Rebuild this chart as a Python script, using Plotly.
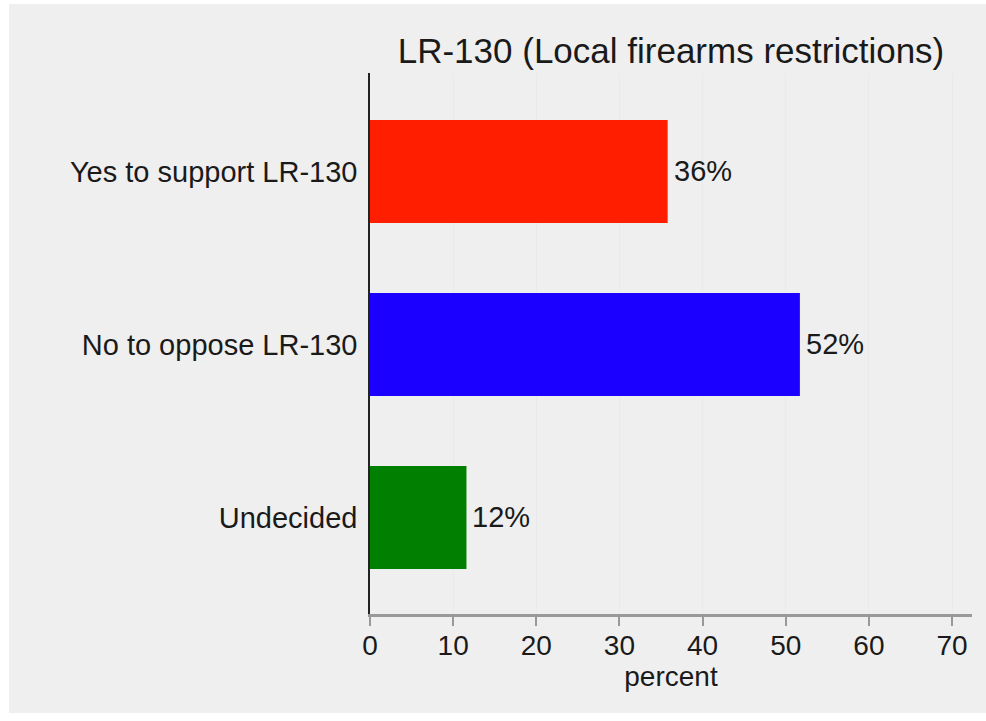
import plotly.graph_objects as go

categories = ["Yes to support LR-130", "No to oppose LR-130", "Undecided"]
values = [35.8, 51.7, 11.6]
value_labels = ["36%", "52%", "12%"]
bar_colors = ["#FF1E00", "#1B00FF", "#007F00"]
x_ticks = [0, 10, 20, 30, 40, 50, 60, 70]
title_text = "LR-130 (Local firearms restrictions)"
x_title = "percent"

FONT = "Liberation Sans, Arial, Helvetica, sans-serif"
BG = "#EFEFEF"
TXT = "#1a1a1a"

fig = go.Figure(
    go.Bar(
        x=values,
        y=categories,
        orientation="h",
        marker=dict(color=bar_colors, line=dict(width=0)),
        width=0.595,
        hoverinfo="skip",
    )
)

annotations = [
    dict(
        x=v, y=c, xref="x", yref="y", text=t, showarrow=False,
        xanchor="left", yanchor="middle", xshift=4,
        font=dict(size=29, color=TXT, family=FONT),
    )
    for v, c, t in zip(values, categories, value_labels)
]

fig.update_layout(
    width=986,
    height=721,
    margin=dict(l=370, r=14, t=73, b=107),
    paper_bgcolor="white",
    plot_bgcolor="rgba(0,0,0,0)",
    showlegend=False,
    font=dict(family=FONT, size=29, color=TXT),
    annotations=annotations,
    title=dict(
        text=title_text,
        x=0.5,
        xref="paper",
        xanchor="center",
        y=1 - 51 / 721,
        yref="container",
        yanchor="middle",
        font=dict(size=35, color=TXT, family=FONT),
    ),
    shapes=[
        dict(
            type="rect",
            xref="paper",
            yref="paper",
            x0=(9 - 370) / 602,
            x1=(990 - 370) / 602,
            y0=-(713 - 614) / 541,
            y1=1 + (73 - 4) / 541,
            fillcolor=BG,
            line=dict(width=0),
            layer="below",
        )
    ],
)

fig.update_xaxes(
    range=[0, 72.4],
    tickvals=x_ticks,
    ticktext=[str(t) for t in x_ticks],
    showgrid=True,
    gridcolor="#E8EBED",
    gridwidth=1,
    zeroline=False,
    showline=True,
    linecolor="#999999",
    linewidth=3,
    ticks="outside",
    tickcolor="#999999",
    tickwidth=2,
    ticklen=9,
    ticklabelstandoff=-5,
    tickfont=dict(size=28, family=FONT, color=TXT),
    title=dict(text=x_title, font=dict(size=28, family=FONT, color=TXT), standoff=2),
    fixedrange=True,
)

fig.update_yaxes(
    categoryorder="array",
    categoryarray=categories,
    range=[2.558, -0.569],
    showgrid=False,
    zeroline=False,
    showline=True,
    linecolor="#222222",
    linewidth=1.5,
    ticks="",
    ticklabelstandoff=5,
    tickfont=dict(size=29, family=FONT, color=TXT),
    fixedrange=True,
)

fig.write_html(
    "out.html",
    config={"displayModeBar": False},
    post_script="document.body.style.margin='0';document.body.style.overflow='hidden';",
)
